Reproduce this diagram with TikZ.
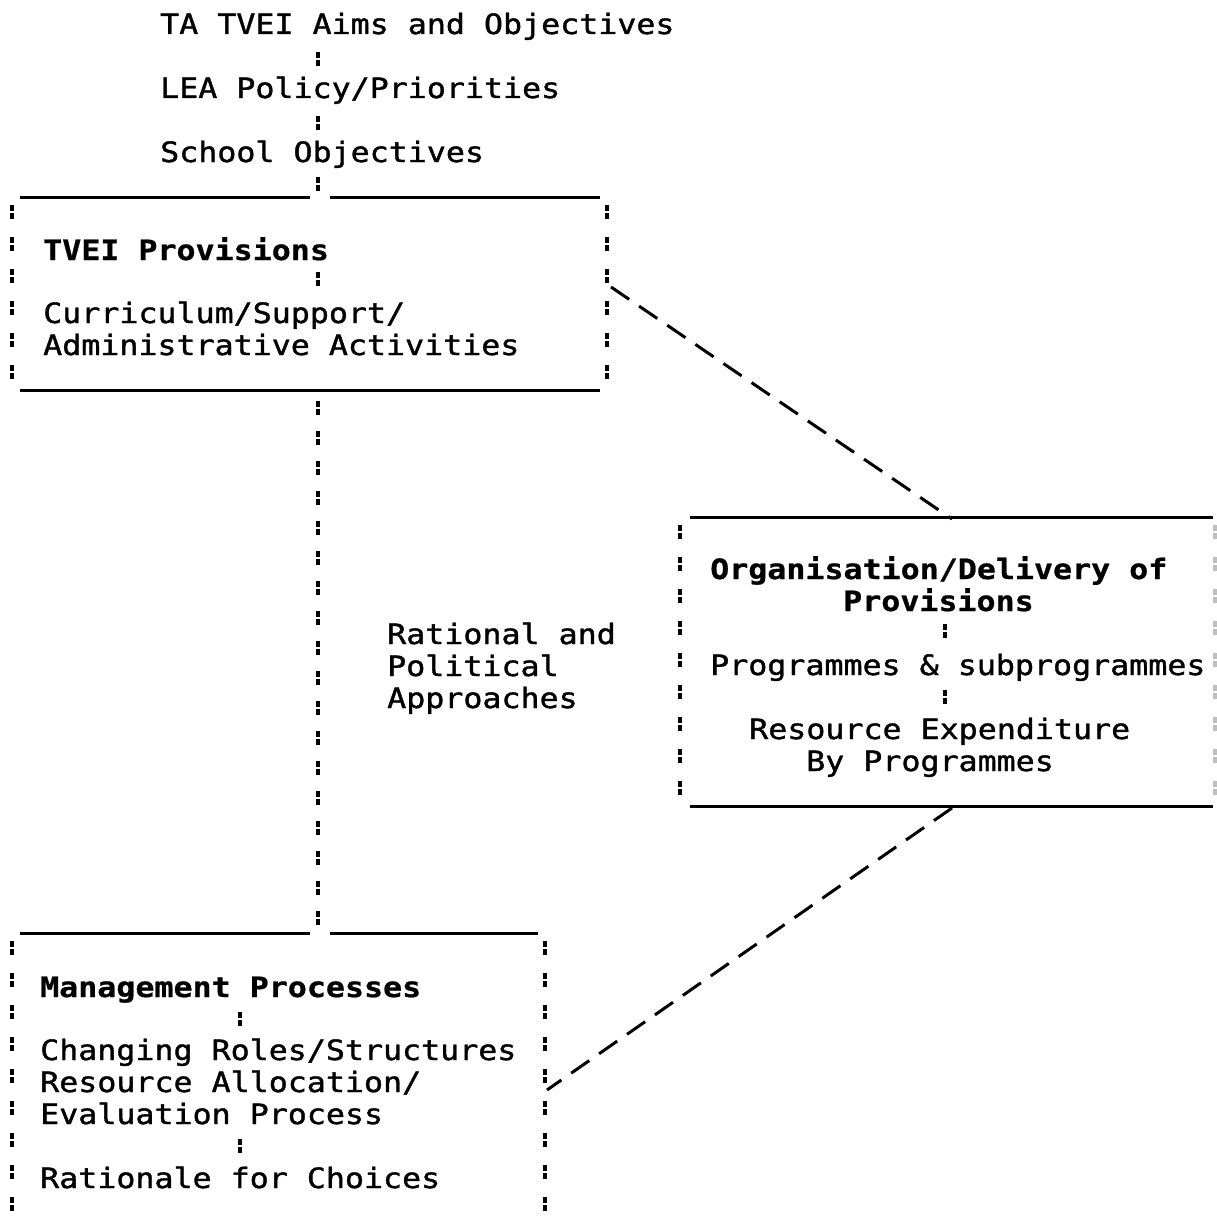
\documentclass[tikz,border=0pt]{standalone}
\usepackage{fontspec}
\setmainfont{DejaVu Sans Mono}[FakeStretch=1.13,
  UprightFeatures={FakeBold=1.3}, BoldFeatures={FakeBold=0.8}]
\usetikzlibrary{calc}
\begin{document}
\begin{tikzpicture}[x=1pt,y=-1pt,
  txt/.style={anchor=base west, inner sep=0pt, text height=21pt, text depth=7pt,
              font=\fontsize{28}{32}\selectfont},
  ttl/.style={txt, font=\fontsize{28}{32}\selectfont\bfseries},
  rule/.style={line width=3pt},
  colon/.style={line width=3.8pt, line cap=butt, dash pattern=on 6pt off 2pt on 6pt off #1},
  colon/.default=18pt,
  faint/.style={colon, draw=black!25},
  link/.style={line width=3pt, dash pattern=on 22pt off 12pt}]
\useasboundingbox (0,0) rectangle (1217,1220);

% stems of the colon chains
\coordinate (axis) at (318,0);
\coordinate (axisB) at (945,0);
\coordinate (axisC) at (240,0);

% chain of objectives
\node[txt] (aims) at (160,34) {TA TVEI Aims and Objectives};
\node[txt] (lea)  at (160,98) {LEA Policy/Priorities};
\node[txt] (sch)  at (160,162) {School Objectives};
\draw[colon, shorten <=11pt, shorten >=11pt] (aims.south -| axis) -- (lea.north -| axis);
\draw[colon, shorten <=11pt, shorten >=11pt] (lea.south -| axis) -- (sch.north -| axis);

% box 1: TVEI provisions
\coordinate (b1nw) at (12,197);
\coordinate (b1ne) at (607,197);
\coordinate (b1sw) at (12,390);
\coordinate (b1se) at (607,390);
\coordinate (b1top) at (318,197);
\coordinate (b1bot) at (318,390);
\coordinate (b1east) at (611,287);
\draw[rule] (20,197) -- (310,197) (330,197) -- (600,197);
\draw[rule] (20,390) -- (600,390);
\draw[colon] ([yshift=-8pt]b1nw) -- ([yshift=2pt]b1sw);
\draw[colon] ([yshift=-8pt]b1ne) -- ([yshift=2pt]b1se);
\draw[colon, shorten <=8pt, shorten >=3pt] (sch.south -| axis) -- (b1top);

\node[ttl] (prov) at (43,260) {TVEI Provisions};
\node[txt] (cur)  at (43,323) {Curriculum/Support/};
\node[txt] (adm)  at (43,355) {Administrative Activities};
\draw[colon, shorten <=5pt, shorten >=16pt] (prov.south -| axis) -- (cur.north -| axis);

% long chain down to the management box
\coordinate (b3top) at (318,933);
\draw[colon=16pt, shorten <=11pt, shorten >=6pt] (b1bot) -- (b3top);

\node[txt] (rat1) at (387,644) {Rational and};
\node[txt] (rat2) at (387,676) {Political};
\node[txt] (rat3) at (387,708) {Approaches};

% box 2: organisation / delivery
\coordinate (b2nw) at (680,517);
\coordinate (b2ne) at (1215,517);
\coordinate (b2sw) at (680,806);
\coordinate (b2se) at (1215,806);
\coordinate (b2top) at (952,519);
\coordinate (b2bot) at (952,808);
\draw[rule] (690,517) -- (1213,517);
\draw[rule] (690,806) -- (1213,806);
\draw[colon] ([yshift=-8pt]b2nw) -- ([yshift=4pt]b2sw);
\draw[faint] ([yshift=-8pt]b2ne) -- ([yshift=4pt]b2se);

\node[ttl] (org1) at (710,579) {Organisation/Delivery of};
\node[ttl] (org2) at (843,611) {Provisions};
\node[txt] (prog) at (710,675) {Programmes \& subprogrammes};
\node[txt] (res1) at (749,739) {Resource Expenditure};
\node[txt] (res2) at (806,771) {By Programmes};
\draw[colon, shorten <=6pt, shorten >=15pt] (org2.south -| axisB) -- (prog.north -| axisB);
\draw[colon, shorten <=8pt, shorten >=13pt] (prog.south -| axisB) -- (res1.north -| axisB);

% box 3: management processes
\coordinate (b3nw) at (12,933);
\coordinate (b3ne) at (545,933);
\coordinate (b3sw) at (12,1220);
\coordinate (b3se) at (545,1220);
\coordinate (b3east) at (547,1090);
\draw[rule] (20,933) -- (310,933) (330,933) -- (538,933);
\draw[colon] ([yshift=-8pt]b3nw) -- (b3sw);
\draw[colon] ([yshift=-8pt]b3ne) -- (b3se);

\node[ttl] (mgt)  at (40,997) {Management Processes};
\node[txt] (chg)  at (40,1060) {Changing Roles/Structures};
\node[txt] (ral)  at (40,1092) {Resource Allocation/};
\node[txt] (evl)  at (40,1124) {Evaluation Process};
\node[txt] (rch)  at (40,1188) {Rationale for Choices};
\draw[colon, shorten <=8pt, shorten >=13pt] (mgt.south -| axisC) -- (chg.north -| axisC);
\draw[colon, shorten <=8pt, shorten >=13pt] (evl.south -| axisC) -- (rch.north -| axisC);

% dashed links between the boxes
\draw[link] (b1east) -- (b2top);
\draw[link] (b2bot) -- (b3east);
\end{tikzpicture}
\end{document}
